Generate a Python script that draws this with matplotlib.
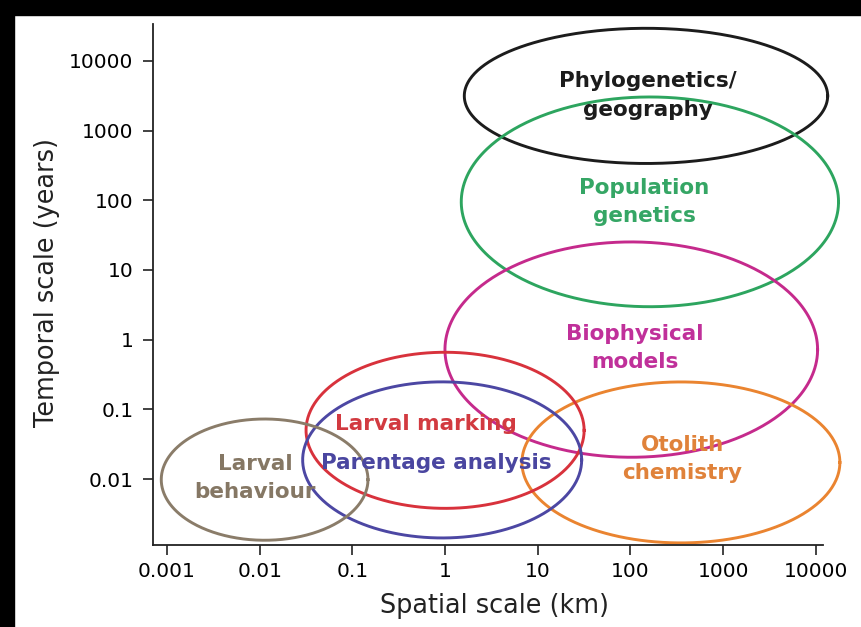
import numpy as np
import matplotlib
matplotlib.use('Agg')
import matplotlib.pyplot as plt
from matplotlib.patches import Rectangle
from matplotlib.ticker import FixedLocator, FuncFormatter, NullLocator

# --- data: each method's reach in space (km) and time (years) ---
methods = ['Phylogenetics/\ngeography', 'Population\ngenetics', 'Biophysical\nmodels',
           'Otolith\nchemistry', 'Larval marking', 'Parentage analysis', 'Larval\nbehaviour']
centre_km = [147, 162, 102, 350, 1.0, 0.93, 0.0113]
centre_yr = [3150, 95, 0.72, 0.0173, 0.050, 0.0188, 0.0098]
span_km_dec = [3.92, 4.07, 4.02, 3.43, 3.00, 3.01, 2.23]   # ellipse width in decades
span_yr_dec = [1.94, 3.01, 3.09, 2.31, 2.24, 2.24, 1.74]   # ellipse height in decades
label_km = [154, 140, 112, 360, 0.62, 0.80, 0.0089]
label_yr = [3150, 94.6, 0.76, 0.0194, 0.0617, 0.0170, 0.01035]
line_colors = ['#1c1c1c', '#2da55f', '#c52a8c', '#ea8430', '#d8323c', '#4c47a3', '#8a7c69']
text_colors = ['#1c1c1c', '#35a665', '#c0309a', '#e0823a', '#d23a40', '#4a46a0', '#857764']

x_ticks = [0.001, 0.01, 0.1, 1, 10, 100, 1000, 10000]
y_ticks = [0.01, 0.1, 1, 10, 100, 1000, 10000]

fig = plt.figure(figsize=(8.61, 6.27), dpi=100)
ax = fig.add_axes([153 / 861, 1 - 545 / 627, 670 / 861, 521 / 627])

t = np.linspace(0, 2 * np.pi, 400)
for i in range(len(methods)):
    lx = np.log10(centre_km[i]) + span_km_dec[i] / 2 * np.cos(t)
    ly = np.log10(centre_yr[i]) + span_yr_dec[i] / 2 * np.sin(t)
    ax.plot(10 ** lx, 10 ** ly, color=line_colors[i], lw=2.1, clip_on=False)
    ax.text(label_km[i], label_yr[i], methods[i], color=text_colors[i],
            fontsize=15.5, fontweight='bold', ha='center', va='center',
            linespacing=1.55)

ax.set_xscale('log')
ax.set_yscale('log')
ax.set_xlim(10 ** -3.151, 10 ** 4.077)
ax.set_ylim(10 ** -2.947, 10 ** 4.53)
fmt = FuncFormatter(lambda v, p: '{:g}'.format(v))
ax.xaxis.set_major_locator(FixedLocator(x_ticks))
ax.yaxis.set_major_locator(FixedLocator(y_ticks))
ax.xaxis.set_major_formatter(fmt)
ax.yaxis.set_major_formatter(fmt)
ax.xaxis.set_minor_locator(NullLocator())
ax.yaxis.set_minor_locator(NullLocator())
ax.tick_params(length=7, width=1.2, labelsize=14.5, pad=5, color='#222222')
ax.tick_params(axis='y', pad=7)

for s in ['top', 'right']:
    ax.spines[s].set_visible(False)
for s in ['left', 'bottom']:
    ax.spines[s].set_linewidth(1.3)
    ax.spines[s].set_color('#222222')

ax.set_xlabel('Spatial scale (km)', fontsize=18.4, color='#222222')
ax.set_ylabel('Temporal scale (years)', fontsize=18.4, color='#222222')
ax.xaxis.set_label_coords(0.510, -0.092)
ax.yaxis.set_label_coords(-0.139, 0.503)

# black frame strips along top and left of the scan
fig.add_artist(Rectangle((0, 1 - 15 / 627), 1, 15 / 627, transform=fig.transFigure,
                         color='black', zorder=10))
fig.add_artist(Rectangle((0, 0), 14 / 861, 1, transform=fig.transFigure,
                         color='black', zorder=10))

fig.savefig('out.png', dpi=100)
